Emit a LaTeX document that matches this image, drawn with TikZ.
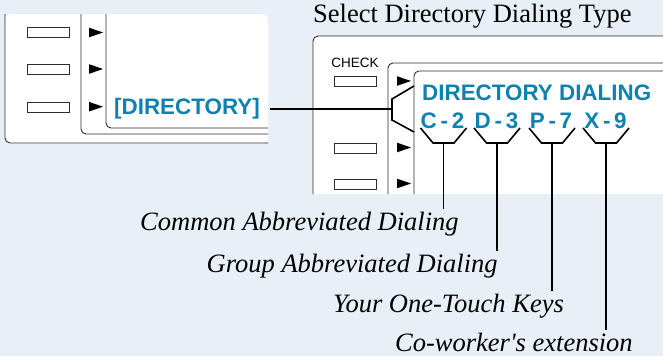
\documentclass[tikz,border=0pt]{standalone}
\usepackage{fontspec}
\setmainfont{Liberation Serif}
\setsansfont{Liberation Sans}
\usetikzlibrary{positioning, calc}
\definecolor{paperblue}{RGB}{233, 239, 246}
\definecolor{lcdblue}{RGB}{12, 130, 176}
\definecolor{framegray}{RGB}{45, 45, 45}

\begin{document}
\begin{tikzpicture}[
    x=1pt, y=-1pt,
    frame/.style={draw=framegray, line width=0.9pt, rounded corners=5pt},
    panel/.style={fill=white, rounded corners=5pt},
    key/.style={draw=framegray, fill=white, line width=0.8pt, minimum width=42pt, minimum height=10pt, inner sep=0pt},
    lcd/.style={font=\sffamily\bfseries\fontsize{22.4}{26}\selectfont, text=lcdblue, inner sep=0pt},
    caption/.style={font=\itshape\fontsize{26.5}{30}\selectfont, inner xsep=0pt, inner ysep=2.5pt},
    wire/.style={line width=1.6pt},
    pointer/.pic={\fill (0,-4.8) -- (14,0) -- (0,4.8) -- cycle;},
    splay/.pic={\draw[wire] (-23,0) -- (-10.5,15) -- (10.5,15) -- (23,0);}
]

% Background
\fill[paperblue] (0,0) rectangle (663,356);
\useasboundingbox (0,0) rectangle (663,356);

% Title
\node[font=\fontsize{26.5}{30}\selectfont, anchor=base west, inner sep=0pt] (title) at (313,22) {Select Directory Dialing Type};

% ============ LEFT SCREEN ============
\fill[panel] (5,14) rectangle (268,144);
\draw[frame] (5,14) -- (5,143) -- (268,143);
\draw[frame] (81,14) -- (81,134) -- (268,134);
\draw[frame] (106,14) -- (106,128) -- (268,128);

% Keys
\node[key] (lkey1) at (48,32.5) {};
\node[key] (lkey2) at (48,69.5) {};
\node[key] (lkey3) at (48,107) {};

% Pointers
\pic at (89,32.5) {pointer};
\pic at (89,69) {pointer};
\pic at (89,106.7) {pointer};

% Soft key text
\node[lcd, anchor=base west] (dirkey) at (114,114.5) {[DIRECTORY]};

% ============ RIGHT SCREEN ============
\fill[white, rounded corners=5pt] (313,194) -- (313,36) -- (670,36) -- (670,194);
\draw[frame] (313,194) -- (313,36) -- (663,36);
\draw[frame] (388,194) -- (388,63) -- (663,63);
\draw[frame] (414,194) -- (414,71) -- (663,71);

% Keys
\node[font=\sffamily\fontsize{13.5}{15}\selectfont, inner sep=0pt, anchor=base] (checklbl) at (355,67) {CHECK};
\node[key] (rkey1) at (355,81.5) {};
\node[key] (rkey2) at (355,148) {};
\node[key] (rkey3) at (355,184.3) {};

% Pointers
\pic at (397,81) {pointer};
\pic at (397,147.5) {pointer};
\pic at (397,183.5) {pointer};

% Display text
\node[lcd, anchor=base west] (dirdial) at (422,100) {DIRECTORY DIALING};
\node[lcd, anchor=base] (code1) at (442.5,128) {C\,-\,2};
\node[lcd, anchor=base] (code2) at (496.5,128) {D\,-\,3};
\node[lcd, anchor=base] (code3) at (551,128) {P\,-\,7};
\node[lcd, anchor=base] (code4) at (605.5,128) {X\,-\,9};

% Fork from soft key to display
\coordinate (fork) at (392,108.5);
\coordinate (forkup) at (414,86);
\coordinate (forkdown) at (414,132);
\draw[wire] ([xshift=10pt]dirkey.east) -- (dirkey.east -| fork);
\draw[wire] (forkup) -- (392,99) -- (392,120) -- (forkdown);

% Brackets under codes
\pic at (443.5,128) {splay};
\pic at (497,128) {splay};
\pic at (552,128) {splay};
\pic at (606,128) {splay};

\coordinate (stem1) at (443.5,143);
\coordinate (stem2) at (497,143);
\coordinate (stem3) at (552,143);
\coordinate (stem4) at (606,143);

% Captions
\node[caption, anchor=base west] (common) at (140,230.5) {Common Abbreviated Dialing};
\node[caption, anchor=base west] (group) at (206.5,272.5) {Group Abbreviated Dialing};
\node[caption, anchor=base west] (onetouch) at (333,312) {Your One-Touch Keys};
\node[caption, anchor=base west] (coworker) at (395,351) {Co-worker\textquotesingle s extension};

% Leader lines
\draw[wire] (stem1) -- (stem1 |- common.north);
\draw[wire] (stem2) -- (stem2 |- group.north);
\draw[wire] (stem3) -- (stem3 |- onetouch.north);
\draw[wire] (stem4) -- (stem4 |- coworker.north);

\end{tikzpicture}
\end{document}
